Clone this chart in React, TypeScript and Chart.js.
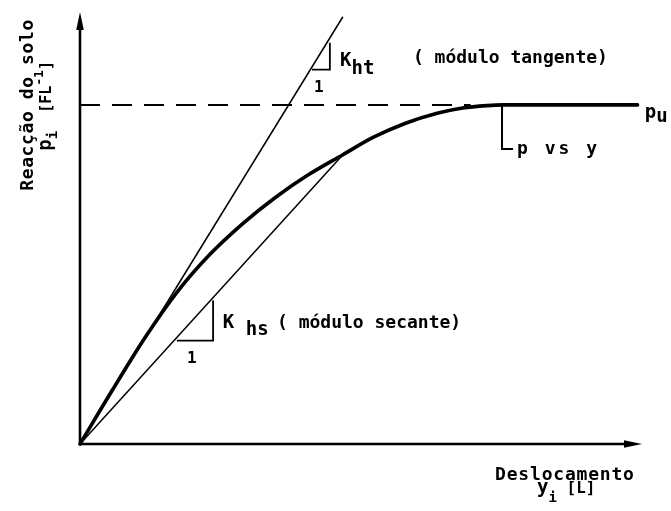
import { useEffect, useRef } from 'react';
import { Chart, registerables } from 'chart.js';

Chart.register(...registerables);

// Displacement (x, arbitrary units) vs soil reaction (y, % of pu)
const curveX = [0, 8, 16, 24, 32, 40, 48, 56, 64.6, 72, 80, 88, 94, 100, 104, 137];
const curveY = [0, 16, 31.4, 45.0, 56.0, 65.0, 72.7, 79.3, 85.3, 90.4, 94.6, 97.6, 99.1, 99.8, 100, 100];

// Tangent modulus line (through origin) and secant modulus line (origin to curve point)
const tangentX = [0, 64.6];
const tangentY = [0, 126];
const secantX = [0, 64.6];
const secantY = [0, 85.3];

// Ultimate resistance pu (dashed reference level)
const puX = [0, 96];
const puY = [100, 100];

// Slope triangles "1 : K"
const tangentStepX = [57, 61.4, 61.4];
const tangentStepY = [110.4, 110.4, 118.3];
const secantStepX = [23.8, 32.7, 32.7];
const secantStepY = [30.5, 30.5, 42.3];

// Leader line for the "p vs y" label
const leaderX = [103.7, 103.7, 106.4];
const leaderY = [100, 87, 87];

const X_MAX = 138.1;
const Y_MAX = 127.4;

const FONT_FAMILY = '"DejaVu Sans Mono", monospace';
const BASE = 18;

type Seg = { t: string; size?: number; dy?: number; ls?: number };

function setFont(ctx: CanvasRenderingContext2D, s: Seg) {
  ctx.font = `bold ${s.size ?? BASE}px ${FONT_FAMILY}`;
  (ctx as any).letterSpacing = `${s.ls ?? 0}px`;
}

function drawRich(ctx: CanvasRenderingContext2D, segs: Seg[], x: number, y: number, align: 'left' | 'center') {
  let w = 0;
  for (const s of segs) {
    setFont(ctx, s);
    w += ctx.measureText(s.t).width;
  }
  let cx = align === 'center' ? x - w / 2 : x;
  for (const s of segs) {
    setFont(ctx, s);
    ctx.fillText(s.t, cx, y + (s.dy ?? 0));
    cx += ctx.measureText(s.t).width;
  }
  (ctx as any).letterSpacing = '0px';
}

const pts = (xs: number[], ys: number[]) => xs.map((x, i) => ({ x, y: ys[i] }));

const annotations = {
  id: 'pyAnnotations',
  afterDatasetsDraw(chart: Chart) {
    const ctx = chart.ctx;
    const xs = chart.scales.x;
    const ys = chart.scales.y;
    const px = (v: number) => xs.getPixelForValue(v);
    const py = (v: number) => ys.getPixelForValue(v);
    const x0 = px(0);
    const y0 = py(0);
    const xEnd = px(X_MAX);
    const yEnd = py(Y_MAX);

    ctx.save();
    ctx.strokeStyle = '#000';
    ctx.fillStyle = '#000';
    ctx.lineWidth = 2.6;
    ctx.lineCap = 'butt';

    // axes
    ctx.beginPath();
    ctx.moveTo(x0, y0 + 1.3);
    ctx.lineTo(x0, yEnd + 12);
    ctx.moveTo(x0 - 1.3, y0);
    ctx.lineTo(xEnd - 12, y0);
    ctx.stroke();

    // arrow heads
    ctx.beginPath();
    ctx.moveTo(x0, yEnd);
    ctx.lineTo(x0 + 3.8, yEnd + 18);
    ctx.lineTo(x0 - 3.8, yEnd + 18);
    ctx.closePath();
    ctx.fill();
    ctx.beginPath();
    ctx.moveTo(xEnd, y0);
    ctx.lineTo(xEnd - 18, y0 + 3.8);
    ctx.lineTo(xEnd - 18, y0 - 3.8);
    ctx.closePath();
    ctx.fill();

    ctx.textAlign = 'left';
    ctx.textBaseline = 'alphabetic';

    // tangent modulus label
    drawRich(ctx, [{ t: 'K', size: 19 }, { t: 'ht', size: 19, dy: 8 }], px(63.9), py(111.5), 'left');
    drawRich(ctx, [{ t: '( módulo tangente)' }], px(81.8), py(112.4), 'left');
    drawRich(ctx, [{ t: '1', size: 16 }], px(58.7), py(103.8), 'center');

    // secant modulus label
    drawRich(ctx, [{ t: 'K', size: 19 }, { t: ' hs', size: 19, dy: 7 }], px(35.1), py(34.2), 'left');
    drawRich(ctx, [{ t: '( módulo secante)' }], px(48.4), py(34.2), 'left');
    drawRich(ctx, [{ t: '1', size: 16 }], px(27.5), py(23.9), 'center');

    // pu and p vs y
    drawRich(ctx, [{ t: 'p', size: 19 }, { t: 'u', size: 19, dy: 4 }], px(138.8), py(96.2), 'left');
    drawRich(ctx, [{ t: 'p vs y', ls: 3 }], px(107.4), py(85.5), 'left');

    // x axis title
    drawRich(ctx, [{ t: 'Deslocamento', ls: 0.8 }], px(102), py(-10.6), 'left');
    drawRich(
      ctx,
      [{ t: 'y', size: 19 }, { t: 'i', size: 14, dy: 9 }, { t: ' [L]', size: 16 }],
      px(112.3),
      py(-14.5),
      'left'
    );

    // y axis title (rotated)
    ctx.save();
    ctx.translate(px(-11.5), py(100));
    ctx.rotate(-Math.PI / 2);
    drawRich(ctx, [{ t: 'Reacção do solo', ls: 0.6 }], 0, 0, 'center');
    ctx.restore();
    ctx.save();
    ctx.translate(px(-7.1), py(99.7));
    ctx.rotate(-Math.PI / 2);
    drawRich(
      ctx,
      [
        { t: 'p', size: 19 },
        { t: 'i', size: 14, dy: 6 },
        { t: '  [FL', size: 15 },
        { t: '-1', size: 13, dy: -8 },
        { t: ']', size: 15 },
      ],
      0,
      0,
      'center'
    );
    ctx.restore();

    ctx.restore();
  },
};

export default function App() {
  const canvasRef = useRef<HTMLCanvasElement | null>(null);

  useEffect(() => {
    const canvas = canvasRef.current;
    if (!canvas) return;

    const thin = {
      borderColor: '#000',
      borderWidth: 1.5,
      pointRadius: 0,
      tension: 0,
      clip: false as const,
    };

    const chart = new Chart(canvas, {
      type: 'line',
      data: {
        datasets: [
          {
            label: 'p vs y',
            data: pts(curveX, curveY),
            borderColor: '#000',
            borderWidth: 3.6,
            pointRadius: 0,
            cubicInterpolationMode: 'monotone',
            borderCapStyle: 'round',
            borderJoinStyle: 'round',
            clip: false,
          },
          { label: 'tangente', data: pts(tangentX, tangentY), ...thin },
          { label: 'secante', data: pts(secantX, secantY), ...thin },
          {
            label: 'pu',
            data: pts(puX, puY),
            ...thin,
            borderWidth: 2,
            borderDash: [20, 12],
          },
          { label: 'tri-t', data: pts(tangentStepX, tangentStepY), ...thin, borderWidth: 1.8 },
          { label: 'tri-s', data: pts(secantStepX, secantStepY), ...thin, borderWidth: 1.8 },
          { label: 'leader', data: pts(leaderX, leaderY), ...thin, borderWidth: 2 },
        ],
      },
      options: {
        responsive: false,
        devicePixelRatio: 1,
        animation: false,
        events: [],
        layout: { padding: { left: 80, right: 29, top: 12, bottom: 67 } },
        plugins: {
          legend: { display: false },
          tooltip: { enabled: false },
        },
        scales: {
          x: { type: 'linear', min: 0, max: X_MAX, display: false },
          y: { type: 'linear', min: 0, max: Y_MAX, display: false },
        },
      },
      plugins: [annotations],
    });

    return () => chart.destroy();
  }, []);

  return (
    <div style={{ position: 'absolute', left: 0, top: 0, width: 671, height: 511, background: '#fff' }}>
      <canvas ref={canvasRef} width={671} height={511} style={{ display: 'block' }} />
    </div>
  );
}
